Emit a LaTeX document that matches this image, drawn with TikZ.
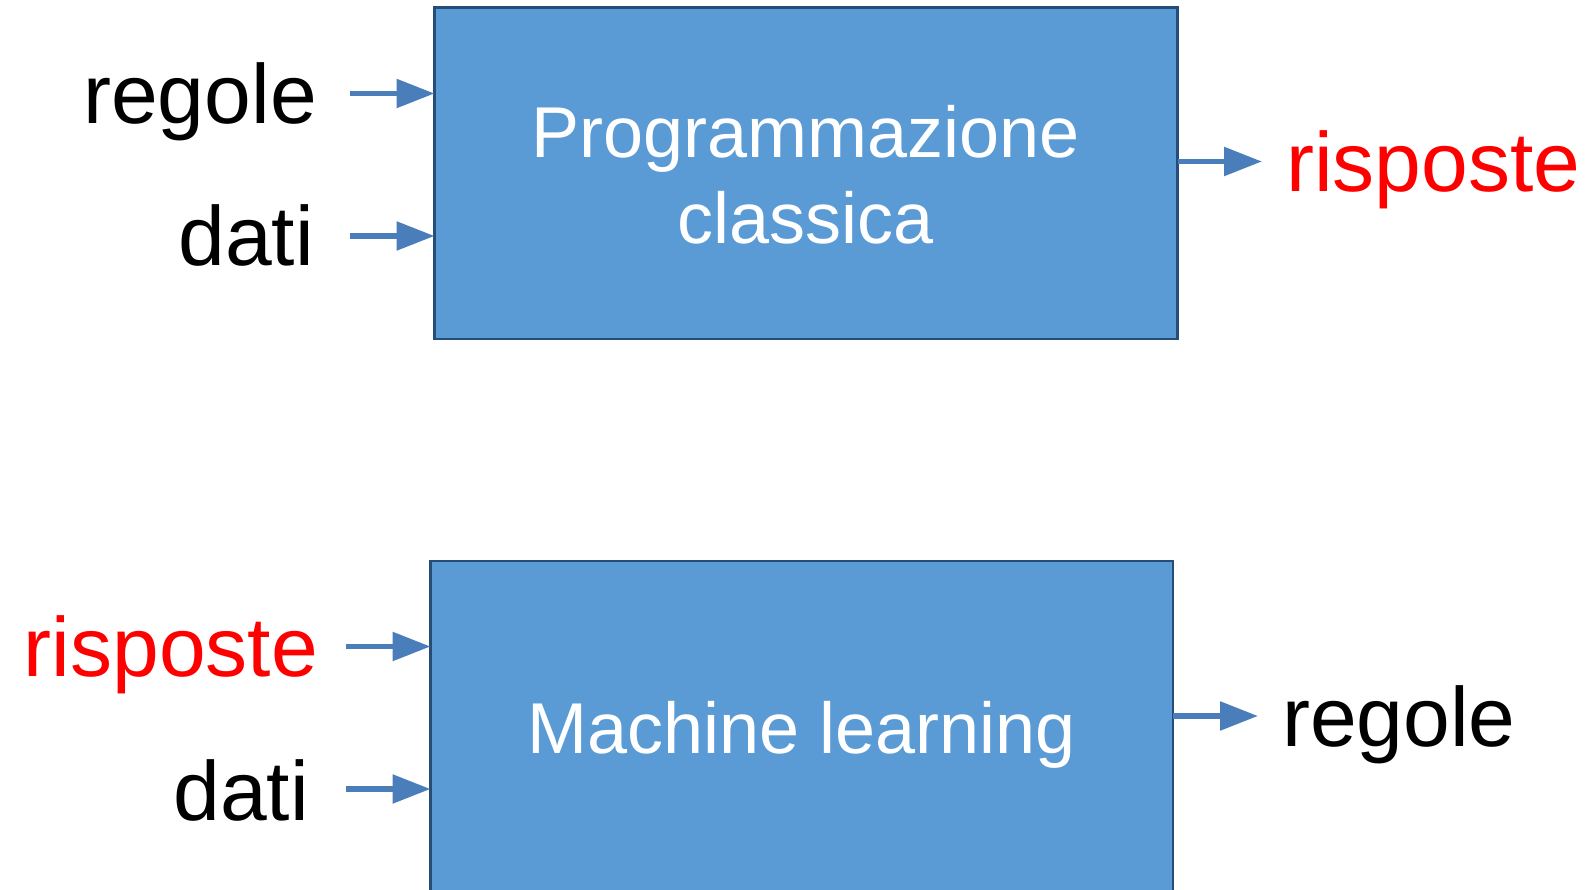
\documentclass[tikz,border=0pt]{standalone}
\usepackage{fontspec}
\setmainfont{Liberation Sans}
\usetikzlibrary{arrows.meta}
\definecolor{boxfill}{HTML}{5B9BD5}
\definecolor{boxline}{HTML}{264D78}
\definecolor{arrowcol}{HTML}{4A7EBB}
\definecolor{hilite}{HTML}{FF0000}
\tikzset{
  procbox/.style={draw=boxline, line width=2.6pt, fill=boxfill, inner sep=0pt},
  boxtext/.style={text=white, inner sep=0pt, anchor=base,
    font=\fontsize{72pt}{86pt}\selectfont},
  lbl/.style={inner sep=0pt, font=\fontsize{84pt}{100pt}\selectfont},
  inlbl/.style={lbl, anchor=base east},
  outlbl/.style={lbl, anchor=base west},
  flow/.style={draw=arrowcol, line width=5.6pt,
    -{Triangle[length=38pt,width=28pt]}},
}
\begin{document}
\begin{tikzpicture}[x=1pt,y=-1pt]
  \useasboundingbox (0,0) rectangle (1593,890);
  \clip (0,0) rectangle (1593,890);

  % --- classical programming ---
  \path[procbox] (434.5,7.5) rectangle (1177.5,339);
  \coordinate (cpW) at (434.5,173);
  \coordinate (cpE) at (1177.5,173);
  \node[boxtext] (cp1) at (806,157.5) {Programmazione};
  \node[boxtext] (cp2) at (806,244) {classica};

  \node[inlbl] (rA) at (317,124) {regole};
  \node[inlbl] (dA) at (314,266) {dati};
  \node[outlbl, text=hilite] (oA) at (1286,191.5) {risposte};

  \coordinate (rAs) at (350,93.5);
  \coordinate (dAs) at (350,236);
  \coordinate (oAe) at (1262,161.5);
  \draw[flow] (rAs) -- (cpW |- rAs);
  \draw[flow] (dAs) -- (cpW |- dAs);
  \draw[flow] (cpE |- oAe) -- (oAe);

  % --- machine learning ---
  \path[procbox] (430.5,561) rectangle (1173,900);
  \coordinate (mlW) at (430.5,724);
  \coordinate (mlE) at (1173,724);
  \node[boxtext] (ml1) at (802,753) {Machine learning};

  \node[inlbl, text=hilite] (rB) at (318,676.5) {risposte};
  \node[inlbl] (dB) at (309,820) {dati};
  \node[outlbl] (oB) at (1282,746) {regole};

  \coordinate (rBs) at (346,646.5);
  \coordinate (dBs) at (346,789);
  \coordinate (oBe) at (1258,716);
  \draw[flow] (rBs) -- (mlW |- rBs);
  \draw[flow] (dBs) -- (mlW |- dBs);
  \draw[flow] (mlE |- oBe) -- (oBe);
\end{tikzpicture}
\end{document}
